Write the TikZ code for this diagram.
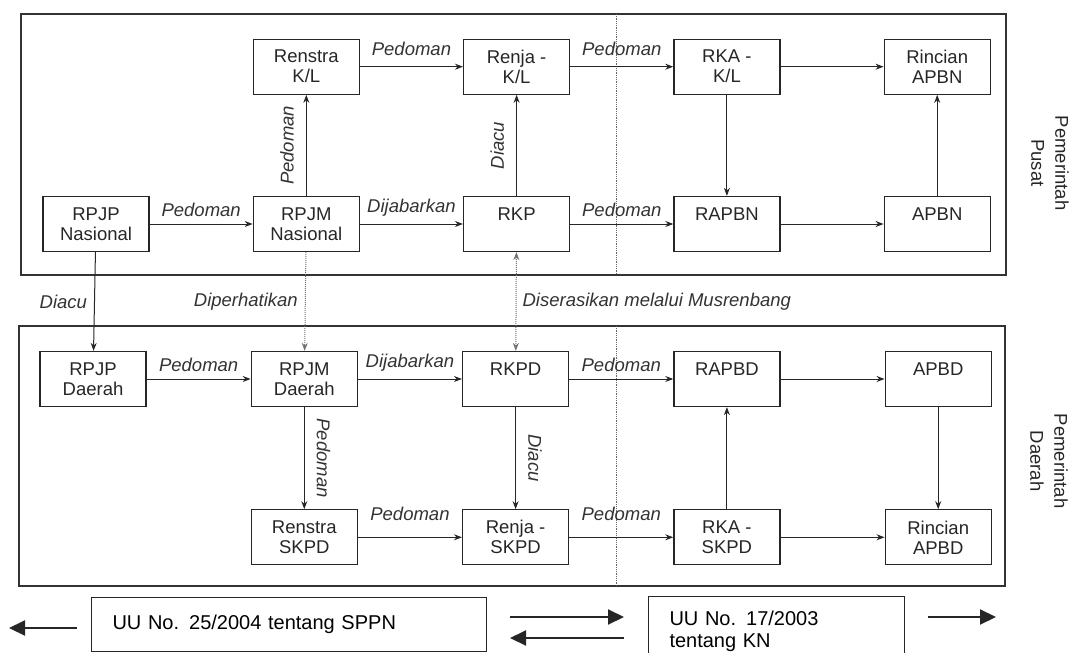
\documentclass[tikz,border=0pt]{standalone}
\usepackage{fontspec}
\setmainfont{Liberation Sans}
\usepackage{xcolor}
\usetikzlibrary{positioning,arrows.meta}

\newcommand{\diafont}{\fontsize{18.5}{20}\selectfont}
\newcommand{\sidefont}{\fontsize{18.5}{24}\selectfont}
\newcommand{\lawfont}{\fontsize{20}{22}\selectfont}

\tikzset{
  box/.style={draw=black!85, line width=1.3pt, minimum width=106pt, minimum height=55pt, align=center, font=\diafont, text=black!85},
  lift/.style={text depth=20pt},
  lbl/.style={font=\diafont\itshape, inner sep=7pt, text=black!80},
  vlbl/.style={lbl, sloped, inner sep=12pt},
  panel/.style={-, line width=1.5pt, draw=black!80},
  divider/.style={-, densely dotted, line width=0.8pt, draw=black!60},
  hint/.style={densely dotted, draw=black!55},
  side/.style={font=\sidefont, align=center, text=black!85},
  lawbox/.style={draw, line width=1pt, font=\lawfont, align=left, inner xsep=21pt},
  legarrow/.style={-{Triangle[length=16pt,width=15pt]}, line width=2pt},
}

\begin{document}
\begin{tikzpicture}[x=1pt, y=-1pt, ->, >={Stealth[length=8pt,width=6pt]}, auto, line width=1pt, draw=black!85, node distance=103pt]
	\useasboundingbox (0,0) rectangle (1074,653);
	\clip (0,0) rectangle (1074,653);

	% frames and the dotted divider
	\draw[panel] (21,14) rectangle (1006,275);
	\draw[panel] (19,326) rectangle (1005,586);
	\draw[divider] (616,14) -- (616,275);
	\draw[divider] (616,326) -- (616,586);

	% pemerintah pusat
	\node[box] (rpjpn) at (96,224) {RPJP\\Nasional};
	\node[box] (rpjmn) [right=of rpjpn] {RPJM\\Nasional};
	\node[box, lift] (rkp) [right=of rpjmn] {RKP};
	\node[box, lift] (rapbn) [right=of rkp] {RAPBN};
	\node[box, lift] (apbn) [right=of rapbn] {APBN};

	\node[box] (renstrakl) [above=101pt of rpjmn] {Renstra\\K/L};
	\node[box] (renjakl) [above=101pt of rkp] {Renja -\\K/L};
	\node[box] (rkakl) [above=101pt of rapbn] {RKA -\\K/L};
	\node[box] (rincianapbn) [above=101pt of apbn] {Rincian\\APBN};

	% pemerintah daerah
	\node[box] (rpjpd) at (93,379) {RPJP\\Daerah};
	\node[box] (rpjmd) [right=104pt of rpjpd] {RPJM\\Daerah};
	\node[box, lift] (rkpd) [right=104pt of rpjmd] {RKPD};
	\node[box, lift] (rapbd) [right=104pt of rkpd] {RAPBD};
	\node[box, lift] (apbd) [right=104pt of rapbd] {APBD};

	\node[box] (renstraskpd) [below=102pt of rpjmd] {Renstra\\SKPD};
	\node[box] (renjaskpd) [below=102pt of rkpd] {Renja -\\SKPD};
	\node[box] (rkaskpd) [below=102pt of rapbd] {RKA -\\SKPD};
	\node[box] (rincianapbd) [below=102pt of apbd] {Rincian\\APBD};

	\node[side, rotate=-90] (pusat) at (1050,163) {Pemerintah\\Pusat};
	\node[side, rotate=-90] (daerah) at (1049,461) {Pemerintah\\Daerah};

	% pusat
	\path (renstrakl) edge node[lbl, yshift=4pt] {Pedoman} (renjakl);
	\path (renjakl) edge node[lbl, yshift=4pt] {Pedoman} (rkakl);
	\path (rkakl) edge (rincianapbn);
	\path (rkakl) edge (rapbn);
	\path (apbn) edge (rincianapbn);

	\path (rpjpn) edge node[lbl] {Pedoman} (rpjmn);
	\path (rpjmn) edge node[lbl] {Dijabarkan} (rkp);
	\path (rkp) edge node[lbl] {Pedoman} (rapbn);
	\path (rapbn) edge (apbn);
	\path (rpjmn) edge node[vlbl] {Pedoman} (renstrakl);
	\path (rkp) edge node[vlbl] {Diacu} (renjakl);

	% pusat to daerah
	\path (rpjpn) edge node[lbl, swap] {Diacu} (rpjpd);
	\path (rpjmn) edge[hint] node[lbl, swap] {Diperhatikan} (rpjmd);
	\path (rkp) edge[hint, <->] node[lbl, inner sep=6pt] {Diserasikan melalui Musrenbang} (rkpd);

	% daerah
	\path (rpjpd) edge node[lbl] {Pedoman} (rpjmd);
	\path (rpjmd) edge node[lbl] {Dijabarkan} (rkpd);
	\path (rkpd) edge node[lbl] {Pedoman} (rapbd);
	\path (rapbd) edge (apbd);
	\path (rpjmd) edge node[vlbl] {Pedoman} (renstraskpd);
	\path (rkpd) edge node[vlbl] {Diacu} (renjaskpd);
	\path (apbd) edge (rincianapbd);

	\path (renstraskpd) edge node[lbl, yshift=9pt] {Pedoman} (renjaskpd);
	\path (renjaskpd) edge node[lbl, yshift=9pt] {Pedoman} (rkaskpd);
	\path (rkaskpd) edge (rincianapbd);
	\path (rkaskpd) edge (rapbd);

	% undang-undang
	\node[lawbox, text width=353pt, minimum height=54pt, anchor=north west] (sppn) at (91,597) {UU No. 25/2004 tentang SPPN};
	\node[lawbox, text width=214pt, minimum height=70pt, anchor=north west] (kn) at (648,596) {UU No. 17/2003\\tentang KN};

	\coordinate (farleft) at (9,628);
	\coordinate (farright) at (996,617);
	\coordinate (back) at (0,638);
	\draw[legarrow, shorten <=14pt] (sppn.west |- farleft) -- (farleft);
	\draw[legarrow, shorten <=23pt, shorten >=24pt] (sppn.east |- farright) -- (kn.west |- farright);
	\draw[legarrow, shorten <=24pt, shorten >=23pt] (kn.west |- back) -- (sppn.east |- back);
	\draw[legarrow, shorten <=23pt] (kn.east |- farright) -- (farright);
\end{tikzpicture}
\end{document}
